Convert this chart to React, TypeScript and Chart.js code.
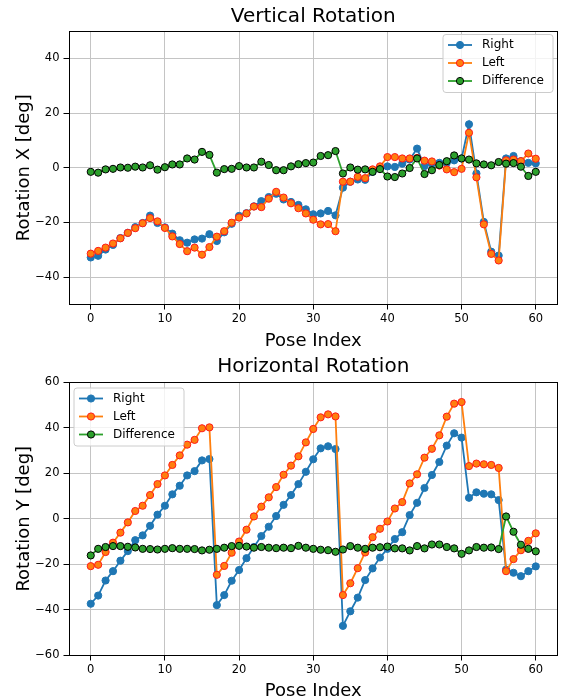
import React, { useEffect, useRef } from "react";
import { Chart, registerables } from "chart.js";

Chart.register(...registerables);

const FONT = "DejaVu Sans";

const POSE_INDEX = [
  0, 1, 2, 3, 4, 5, 6, 7, 8, 9, 10, 11, 12, 13, 14, 15, 16, 17, 18, 19, 20,
  21, 22, 23, 24, 25, 26, 27, 28, 29, 30, 31, 32, 33, 34, 35, 36, 37, 38, 39, 40,
  41, 42, 43, 44, 45, 46, 47, 48, 49, 50, 51, 52, 53, 54, 55, 56, 57, 58, 59, 60,
];

const X_TICKS = [0, 10, 20, 30, 40, 50, 60];
const RX_TICKS = [-40, -20, 0, 20, 40];
const RY_TICKS = [-60, -40, -20, 0, 20, 40, 60];

// Vertical rotation (Rotation X)
const RX_RIGHT = [
  -32.8, -32.2, -29.9, -28.2, -25.7, -23.8, -21.7, -20.2, -17.5, -20.2,
  -21.8, -24.1, -26.5, -27.4, -26.2, -25.9, -24.3, -26.8, -23.6, -20.5,
  -17.6, -16.6, -14.1, -12.2, -10.7, -9.5, -11.6, -12.5, -13.6, -15.2,
  -17.0, -16.7, -15.8, -17.4, -7.3, -5.1, -4.3, -4.4, -1.5, 0.0,
  0.5, 0.3, 1.5, 3.0, 7.0, 0.6, 1.5, 1.8, 1.8, 2.7,
  3.4, 15.9, -2.1, -19.8, -30.7, -32.1, 3.4, 4.3, 2.4, 1.8,
  1.6,
];
const RX_LEFT = [
  -31.4, -30.4, -29.2, -27.7, -25.8, -23.8, -22.1, -20.3, -18.4, -19.6,
  -22.0, -25.1, -27.9, -30.5, -29.2, -31.8, -29.0, -25.2, -23.2, -20.1,
  -18.2, -16.7, -14.2, -14.4, -11.3, -8.8, -10.9, -13.0, -14.8, -16.7,
  -19.0, -20.7, -20.6, -23.2, -5.1, -5.1, -3.3, -3.8, -0.6, 0.5,
  3.9, 3.9, 3.4, 3.4, 3.6, 2.6, 2.3, 0.8, -0.6, -1.6,
  -0.4, 12.8, -3.5, -20.7, -31.5, -33.9, 2.7, 3.0, 2.4, 5.2,
  3.3,
];
const RX_DIFF = [
  -1.5, -1.8, -0.6, -0.4, 0.1, 0.0, 0.4, 0.1, 0.9, -0.7,
  0.2, 1.2, 1.2, 3.4, 3.0, 5.8, 4.7, -1.8, -0.5, -0.4,
  0.6, 0.1, 0.1, 2.2, 1.0, -0.9, -0.9, 0.5, 1.3, 1.7,
  1.9, 4.3, 4.6, 6.1, -2.1, 0.1, -0.7, -0.6, -1.5, -0.5,
  -3.2, -3.4, -2.1, -0.1, 3.4, -2.3, -0.9, 1.0, 2.4, 4.5,
  3.4, 3.0, 1.6, 1.2, 0.9, 2.1, 1.5, 1.7, 0.4, -3.0,
  -1.5,
];

// Horizontal rotation (Rotation Y)
const RY_RIGHT = [
  -37.3, -33.7, -27.1, -23.0, -18.4, -14.2, -9.4, -7.3, -3.1, 1.8,
  5.7, 10.7, 14.5, 19.0, 20.9, 25.6, 26.2, -37.9, -33.5, -27.2,
  -22.5, -17.3, -12.4, -7.6, -3.5, 1.2, 6.1, 10.4, 15.2, 20.6,
  26.1, 30.9, 31.8, 30.6, -47.0, -40.6, -34.6, -26.9, -21.8, -17.0,
  -13.2, -8.9, -5.9, 1.6, 7.0, 13.5, 19.2, 24.9, 32.1, 37.5,
  35.6, 9.2, 11.6, 11.0, 10.7, 8.2, -22.3, -23.7, -25.2, -23.0,
  -20.9,
];
const RY_LEFT = [
  -20.8, -20.2, -14.6, -10.5, -6.1, -1.6, 3.4, 5.7, 10.4, 15.2,
  19.0, 23.6, 27.8, 32.5, 34.6, 39.7, 40.1, -24.6, -20.7, -14.9,
  -10.0, -4.8, 1.0, 5.3, 9.4, 13.9, 19.3, 23.3, 27.4, 33.5,
  39.4, 44.5, 45.8, 44.9, -33.5, -28.3, -21.7, -14.8, -8.1, -4.4,
  -1.2, 4.5, 7.3, 15.5, 19.5, 26.8, 30.7, 36.6, 44.8, 50.5,
  51.2, 23.1, 24.2, 23.9, 23.6, 22.3, -23.0, -17.7, -13.8, -9.7,
  -6.4,
];
const RY_DIFF = [
  -16.1, -13.2, -12.4, -12.0, -12.0, -12.3, -12.6, -13.2, -13.3, -13.5,
  -13.2, -12.9, -13.2, -13.2, -13.3, -13.9, -13.6, -13.2, -12.7, -12.0,
  -11.9, -12.2, -12.7, -12.4, -12.7, -12.9, -12.7, -12.9, -11.9, -12.7,
  -13.2, -13.6, -13.8, -14.5, -13.5, -12.0, -12.7, -13.2, -12.7, -12.5,
  -12.2, -13.0, -13.0, -13.9, -12.0, -13.0, -11.3, -11.3, -12.4, -13.0,
  -15.4, -13.9, -12.4, -12.7, -12.6, -13.3, 1.0, -5.7, -11.4, -13.2,
  -14.3,
];

const SERIES_LABELS = ["Right", "Left", "Difference"];

const fmt = (v: number | string) => {
  const n = Number(v);
  return n < 0 ? "\u2212" + Math.abs(n) : String(n);
};

const toPoints = (vals: number[]) => POSE_INDEX.map((x, i) => ({ x, y: vals[i] }));

const makeDatasets = (r: number[], l: number[], d: number[]) => [
  {
    label: SERIES_LABELS[0],
    data: toPoints(r),
    borderColor: "#1f77b4",
    backgroundColor: "#1f77b4",
    pointBackgroundColor: "#1f77b4",
    pointBorderColor: "#1f77b4",
    borderWidth: 1.8,
    pointRadius: 3.6,
    pointBorderWidth: 1,
    order: 3,
  },
  {
    label: SERIES_LABELS[1],
    data: toPoints(l),
    borderColor: "#ff7f0e",
    backgroundColor: "#ff7f0e",
    pointBackgroundColor: "#ff7f0e",
    pointBorderColor: "#ff1a1a",
    borderWidth: 1.8,
    pointRadius: 3.6,
    pointBorderWidth: 1,
    order: 2,
  },
  {
    label: SERIES_LABELS[2],
    data: toPoints(d),
    borderColor: "#2ca02c",
    backgroundColor: "#2ca02c",
    pointBackgroundColor: "#2ca02c",
    pointBorderColor: "#000000",
    borderWidth: 1.8,
    pointRadius: 3.6,
    pointBorderWidth: 1,
    order: 1,
  },
];

const framePlugin = {
  id: "frame",
  afterDatasetsDraw(chart: any) {
    const { ctx, chartArea } = chart;
    ctx.save();
    ctx.strokeStyle = "#000";
    ctx.lineWidth = 1;
    const l = Math.round(chartArea.left) + 0.5;
    const t = Math.round(chartArea.top) + 0.5;
    const r = Math.round(chartArea.right) - 0.5;
    const b = Math.round(chartArea.bottom) - 0.5;
    ctx.strokeRect(l, t, r - l, b - t);
    ctx.restore();
  },
};

const boxLegendPlugin = {
  id: "boxLegend",
  afterDraw(chart: any, _args: any, opts: any) {
    const { ctx } = chart;
    const { x, y, w, h, firstRow, rowGap } = opts;
    ctx.save();
    const rad = 3;
    ctx.beginPath();
    ctx.moveTo(x + rad, y);
    ctx.lineTo(x + w - rad, y);
    ctx.arcTo(x + w, y, x + w, y + rad, rad);
    ctx.lineTo(x + w, y + h - rad);
    ctx.arcTo(x + w, y + h, x + w - rad, y + h, rad);
    ctx.lineTo(x + rad, y + h);
    ctx.arcTo(x, y + h, x, y + h - rad, rad);
    ctx.lineTo(x, y + rad);
    ctx.arcTo(x, y, x + rad, y, rad);
    ctx.closePath();
    ctx.fillStyle = "rgba(255,255,255,0.8)";
    ctx.fill();
    ctx.strokeStyle = "#cccccc";
    ctx.lineWidth = 1;
    ctx.stroke();
    chart.data.datasets.forEach((ds: any, i: number) => {
      const cy = y + firstRow + i * rowGap;
      ctx.beginPath();
      ctx.moveTo(x + 5, cy);
      ctx.lineTo(x + 29, cy);
      ctx.strokeStyle = ds.borderColor;
      ctx.lineWidth = ds.borderWidth;
      ctx.stroke();
      ctx.beginPath();
      ctx.arc(x + 17, cy, ds.pointRadius, 0, Math.PI * 2);
      ctx.fillStyle = ds.pointBackgroundColor;
      ctx.fill();
      ctx.strokeStyle = ds.pointBorderColor;
      ctx.lineWidth = ds.pointBorderWidth;
      ctx.stroke();
      ctx.fillStyle = "#000";
      ctx.font = `12px "${FONT}"`;
      ctx.textBaseline = "middle";
      ctx.textAlign = "left";
      ctx.fillText(ds.label, x + 39, cy);
    });
    ctx.restore();
  },
};

function makeConfig(
  title: string,
  yTitle: string,
  yMin: number,
  yMax: number,
  yTicks: number[],
  datasets: any[],
  legendPos: { x: number; y: number },
  titlePadBottom: number,
  xAxisHeight: number
): any {
  return {
    type: "line",
    data: { datasets },
    plugins: [framePlugin, boxLegendPlugin],
    options: {
      animation: false,
      responsive: false,
      events: [],
      layout: { padding: { left: 0, right: 2.5, top: 0, bottom: 0 } },
      plugins: {
        legend: { display: false },
        tooltip: { enabled: false },
        title: {
          display: true,
          text: title,
          fullSize: false,
          color: "#000",
          font: { family: FONT, size: 20, weight: "normal", lineHeight: 1.2 },
          padding: { top: 5, bottom: titlePadBottom },
        },
        boxLegend: { x: legendPos.x, y: legendPos.y, w: 110, h: 58, firstRow: 10.5, rowGap: 18 },
      },
      scales: {
        x: {
          type: "linear",
          min: -3,
          max: 63,
          afterBuildTicks: (s: any) => {
            s.ticks = X_TICKS.map((v) => ({ value: v }));
          },
          afterFit: (s: any) => {
            s.height = xAxisHeight;
          },
          grid: { color: "#c4c4c4", lineWidth: 1, tickColor: "#000", tickLength: 5, drawTicks: true },
          border: { display: false },
          ticks: {
            color: "#000",
            font: { family: FONT, size: 11.5 },
            padding: 3,
            maxRotation: 0,
            autoSkip: false,
            callback: fmt,
          },
          title: {
            display: true,
            text: "Pose Index",
            color: "#000",
            font: { family: FONT, size: 18, lineHeight: 1 },
            padding: { top: 0, bottom: 0 },
          },
        },
        y: {
          type: "linear",
          min: yMin,
          max: yMax,
          afterBuildTicks: (s: any) => {
            s.ticks = yTicks.map((v) => ({ value: v }));
          },
          afterFit: (s: any) => {
            s.width = 68.5;
          },
          grid: { color: "#c4c4c4", lineWidth: 1, tickColor: "#000", tickLength: 5, drawTicks: true },
          border: { display: false },
          ticks: {
            color: "#000",
            font: { family: FONT, size: 11.5 },
            padding: 4,
            autoSkip: false,
            callback: fmt,
          },
          title: {
            display: true,
            text: yTitle,
            color: "#000",
            font: { family: FONT, size: 18, lineHeight: 1 },
            padding: { top: 15.5, bottom: 0 },
          },
        },
      },
    },
  };
}

function PlotCanvas({ config }: { config: () => any }) {
  const ref = useRef<HTMLCanvasElement | null>(null);
  useEffect(() => {
    if (!ref.current) return;
    const chart = new Chart(ref.current, config());
    return () => chart.destroy();
  }, []);
  return <canvas ref={ref} width={563} height={350} style={{ display: "block" }} />;
}

export default function App() {
  return (
    <div style={{ position: "absolute", top: 0, left: 0, width: 563, height: 700, background: "#fff" }}>
      <PlotCanvas
        config={() =>
          makeConfig(
            "Vertical Rotation",
            "Rotation X [deg]",
            -50,
            50,
            RX_TICKS,
            makeDatasets(RX_RIGHT, RX_LEFT, RX_DIFF),
            { x: 443, y: 34.5 },
            2,
            45.5
          )
        }
      />
      <PlotCanvas
        config={() =>
          makeConfig(
            "Horizontal Rotation",
            "Rotation Y [deg]",
            -60,
            60,
            RY_TICKS,
            makeDatasets(RY_RIGHT, RY_LEFT, RY_DIFF),
            { x: 74, y: 38 },
            3,
            44.5
          )
        }
      />
    </div>
  );
}
